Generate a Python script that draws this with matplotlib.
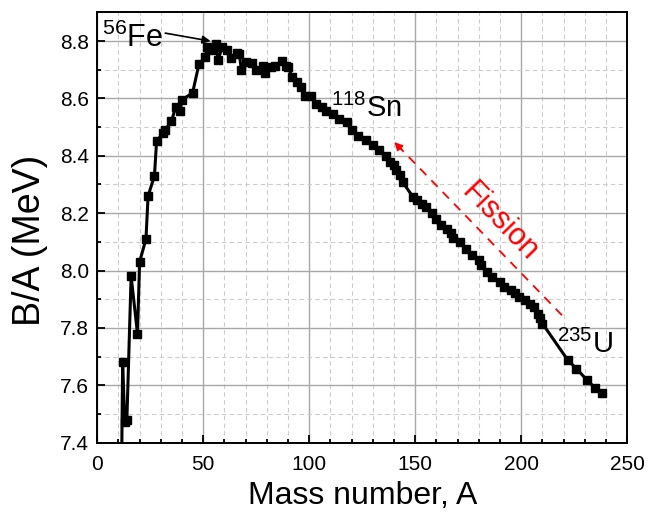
import numpy as np
import matplotlib
matplotlib.use("Agg")
import matplotlib.pyplot as plt
from matplotlib.ticker import MultipleLocator

# binding energy per nucleon
mass_number = [11, 12, 13, 14, 16, 19, 20, 23, 24, 27, 28, 31, 32, 35, 37, 39, 40,
               45, 48, 51, 52, 54, 56, 57, 59, 61, 63, 66, 67, 68, 70, 73, 75, 78,
               79, 82, 84, 87, 89, 90, 92, 94, 96, 98, 101, 103, 106, 108, 111,
               114, 118, 120, 123, 127, 130, 133, 136, 138, 140, 141, 143, 144,
               149, 151, 153, 155, 158, 160, 162, 165, 167, 168, 171, 174, 177,
               180, 181, 184, 186, 190, 192, 195, 197, 199, 202, 204, 206, 208,
               209, 210, 222, 226, 231, 235, 238]
binding = [6.93, 7.68, 7.47, 7.48, 7.98, 7.78, 8.03, 8.11, 8.26, 8.33, 8.45, 8.48,
           8.49, 8.52, 8.57, 8.555, 8.595, 8.62, 8.72, 8.745, 8.78, 8.77, 8.79,
           8.735, 8.78, 8.77, 8.74, 8.758, 8.756, 8.70, 8.727, 8.723, 8.70,
           8.715, 8.69, 8.71, 8.715, 8.73, 8.715, 8.71, 8.675, 8.657, 8.64,
           8.61, 8.61, 8.58, 8.57, 8.558, 8.547, 8.53, 8.518, 8.49, 8.47,
           8.454, 8.439, 8.42, 8.40, 8.38, 8.367, 8.35, 8.332, 8.309, 8.256,
           8.245, 8.233, 8.22, 8.20, 8.18, 8.16, 8.146, 8.13, 8.115, 8.10,
           8.075, 8.053, 8.036, 8.018, 7.995, 7.978, 7.96, 7.943, 7.931, 7.92,
           7.908, 7.897, 7.883, 7.873, 7.85, 7.833, 7.815, 7.687, 7.658, 7.618,
           7.589, 7.571]

plt.rcParams['font.family'] = ['Liberation Sans', 'DejaVu Sans']
plt.rcParams['mathtext.default'] = 'regular'

fig = plt.figure(figsize=(6.48, 5.2), dpi=100)
ax = fig.add_axes([0.150, 0.149, 0.818, 0.827])

ax.plot(mass_number, binding, color='black', lw=2.2, marker='s', ms=5.4,
        clip_on=True, zorder=3)

ax.set_xlim(0, 250)
ax.set_ylim(7.4, 8.9)
ax.xaxis.set_major_locator(MultipleLocator(50))
ax.xaxis.set_minor_locator(MultipleLocator(10))
ax.yaxis.set_minor_locator(MultipleLocator(0.1))
ax.set_yticks(np.arange(7.4, 8.81, 0.2))
ax.set_yticklabels([f"{v:.1f}" for v in np.arange(7.4, 8.81, 0.2)])

ax.grid(which='major', color='#a8a8a8', lw=1.0, ls='-', zorder=0)
ax.grid(which='minor', color='#cccccc', lw=0.8, ls=(0, (4, 3)), zorder=0)
ax.tick_params(which='both', direction='in', labelsize=15, width=1.3)
ax.tick_params(which='major', length=6)
ax.tick_params(which='minor', length=3)
ax.tick_params(axis='x', pad=9)
ax.tick_params(axis='y', pad=6)
for s in ax.spines.values():
    s.set_linewidth(1.4)

ax.set_xlabel('Mass number, A', fontsize=23, labelpad=5)
ax.set_ylabel('B/A (MeV)', fontsize=27)
ax.yaxis.set_label_coords(-0.092, 0.47)

# nuclide labels
ax.text(2.2, 8.779, '$^{56}$Fe', fontsize=22, va='baseline', ha='left')
ax.annotate('', xy=(53.5, 8.80), xytext=(32.1, 8.828),
            arrowprops=dict(arrowstyle='-|>', color='black', lw=1.2,
                            mutation_scale=12, shrinkA=0, shrinkB=0))
ax.text(110.5, 8.535, '$^{118}$Sn', fontsize=21, va='baseline', ha='left')
ax.text(217, 7.712, '$^{235}$U', fontsize=21, va='baseline', ha='left')

# fission arrow
tail = (219.2, 7.844)
head = (140.1, 8.448)
ax.plot([tail[0], 142.5], [tail[1], 8.430], color='red', lw=1.3,
        ls=(0, (5, 4)), zorder=4)
ax.annotate('', xy=head, xytext=(143.5, 8.422),
            arrowprops=dict(arrowstyle='-|>', color='red', lw=1.2,
                            mutation_scale=12, shrinkA=0, shrinkB=0))
ax.text(190, 8.168, 'Fission', color='red', fontsize=22, rotation=-46,
        rotation_mode='anchor', ha='center', va='center')

fig.savefig('out.png', dpi=100)
